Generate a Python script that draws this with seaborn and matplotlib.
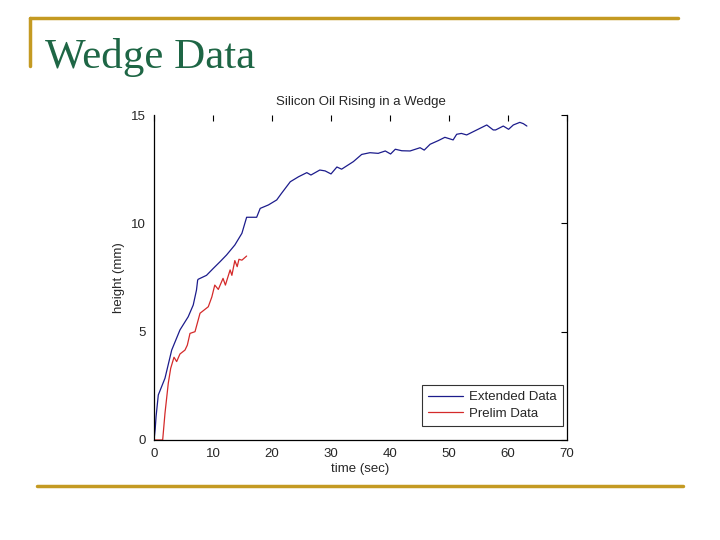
import numpy as np
import pandas as pd
import seaborn as sns
import matplotlib.pyplot as plt
from matplotlib.lines import Line2D

# extended run (blue)
ext_time = [0, 0.2, 0.35, 0.73, 1.86, 3.0, 4.4, 5.8, 6.65, 7.2, 7.4, 7.5, 8.9, 10.05, 11.2,
            12.3, 13.7, 14.9, 15.7, 17.4, 18.0, 19.4, 20.8, 21.6, 23.1, 24.5, 25.9, 26.6,
            28.1, 29.0, 30.0, 31.0, 31.8, 33.8, 35.2, 36.6, 38.0, 39.2, 40.1, 40.9, 42.0,
            43.4, 45.1, 45.8, 46.8, 48.2, 49.3, 50.7, 51.3, 52.1, 53.0, 54.7, 56.4, 57.5,
            57.9, 59.2, 60.1, 60.9, 62.0, 62.6, 63.2]
ext_height = [0, 0.5, 1.08, 2.08, 2.85, 4.15, 5.08, 5.69, 6.23, 6.92, 7.38, 7.42, 7.6, 7.92,
              8.23, 8.54, 9.0, 9.54, 10.28, 10.28, 10.69, 10.85, 11.08, 11.38, 11.92, 12.15,
              12.34, 12.23, 12.46, 12.42, 12.28, 12.6, 12.5, 12.85, 13.18, 13.26, 13.23,
              13.34, 13.2, 13.42, 13.35, 13.34, 13.49, 13.38, 13.65, 13.82, 13.97, 13.85,
              14.11, 14.15, 14.08, 14.31, 14.54, 14.31, 14.31, 14.49, 14.34, 14.54, 14.66,
              14.6, 14.49]

# preliminary run (red)
pre_time = [0, 1.47, 1.86, 2.42, 2.83, 3.39, 3.84, 4.4, 5.25, 5.65, 6.1, 6.95, 7.8, 8.36,
            9.2, 9.8, 10.3, 10.9, 11.7, 12.1, 12.9, 13.2, 13.7, 14.1, 14.4, 14.9, 15.7]
pre_height = [0, 0, 1.23, 2.62, 3.31, 3.82, 3.62, 3.97, 4.15, 4.38, 4.92, 5.0, 5.85, 5.97,
              6.15, 6.6, 7.15, 6.95, 7.46, 7.15, 7.85, 7.6, 8.28, 8.0, 8.34, 8.3, 8.49]

df = pd.concat([
    pd.DataFrame({"time": ext_time, "height": ext_height, "run": "Extended Data"}),
    pd.DataFrame({"time": pre_time, "height": pre_height, "run": "Prelim Data"}),
])

sns.set_style("white")
plt.rcParams['font.family'] = ['Liberation Sans', 'DejaVu Sans']

fig = plt.figure(figsize=(7.2, 5.4), dpi=100)

# slide decorations
gold = "#C49A22"
fig.add_artist(Line2D([30/720, 678/720], [1 - 18/540, 1 - 18/540], color=gold, lw=2.5))
fig.add_artist(Line2D([30/720, 30/720], [1 - 18/540, 1 - 66/540], color=gold, lw=2.5))
fig.add_artist(Line2D([37/720, 683/720], [1 - 486/540, 1 - 486/540], color=gold, lw=2.5))
fig.text(45/720, 1 - 68/540, "Wedge Data", family="Liberation Serif", fontsize=31,
         color="#1E6645", va="baseline")

ax = fig.add_axes([154/720, 1 - 440/540, 413/720, 325/540])
sns.lineplot(data=df, x="time", y="height", hue="run",
             palette={"Extended Data": "#1C1C8C", "Prelim Data": "#D42A2A"},
             linewidth=0.9, sort=False, estimator=None, ax=ax)

ax.set_xlim(0, 70)
ax.set_ylim(0, 15)
ax.set_xticks(range(0, 71, 10))
ax.set_yticks([0, 5, 10, 15])
ax.tick_params(direction="in", length=4, width=0.8, labelsize=9.5, top=True, right=True,
               pad=6, color="black")
for s in ["left", "bottom", "right"]:
    ax.spines[s].set_color("black")
    ax.spines[s].set_linewidth(0.9)
ax.spines["top"].set_visible(False)
ax.set_xlabel("time (sec)", fontsize=9.5, labelpad=2)
ax.set_ylabel("height (mm)", fontsize=9.5, labelpad=4)
ax.set_title("Silicon Oil Rising in a Wedge", fontsize=9.5, pad=7)

leg = ax.legend(loc="lower right", bbox_to_anchor=(0.99, 0.043), fontsize=9.5,
                frameon=True, fancybox=False, edgecolor="black", borderaxespad=0,
                handlelength=2.6, handletextpad=0.5, borderpad=0.45, labelspacing=0.35)
leg.get_frame().set_linewidth(0.8)

fig.savefig("out.png", dpi=100)
